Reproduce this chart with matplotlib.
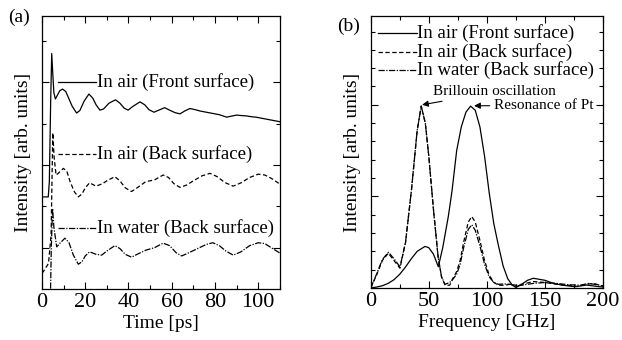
import matplotlib
matplotlib.use('Agg')
import matplotlib.pyplot as plt
from matplotlib.ticker import MultipleLocator, FixedLocator

plt.rcParams['font.family'] = ['Liberation Serif', 'DejaVu Serif']

# (a) time domain signals, offset for clarity
front_t = [0, 2.9, 3.4, 4.0, 4.5, 5.0, 5.5, 6.2, 7.0, 8.2, 9.5, 11, 12.5, 14, 16, 17.5, 19.5, 21.7,
           23.5, 25, 26.8, 28.5, 31, 34, 36, 38, 39.8, 42, 45.3, 47.5, 49.5, 51.8, 54, 56.7, 59,
           61.5, 63.8, 66, 68.4, 71, 73, 76, 79, 82, 85.4, 88, 90, 92, 94.6, 97, 99, 102, 104,
           107, 110]
front_v = [2.23, 2.23, 2.6, 4.5, 5.7, 5.2, 4.75, 4.6, 4.68, 4.8, 4.84, 4.78, 4.6, 4.42, 4.26, 4.32,
           4.55, 4.72, 4.62, 4.46, 4.33, 4.36, 4.5, 4.58, 4.5, 4.38, 4.33, 4.42, 4.53, 4.46, 4.34,
           4.28, 4.33, 4.39, 4.33, 4.27, 4.24, 4.31, 4.37, 4.34, 4.31, 4.28, 4.25, 4.22, 4.16, 4.19,
           4.21, 4.2, 4.19, 4.17, 4.16, 4.13, 4.11, 4.08, 4.05]

back_t = [0, 1, 3, 4.2, 5.0, 5.6, 6.5, 7.5, 9.9, 11.5, 13, 15, 16.8, 18.5, 20, 22, 25, 28, 30,
          33.7, 36, 38.5, 41.4, 44, 48, 52, 56, 58.5, 61, 63.8, 67, 70, 74, 77.7, 81, 84.5, 88.4,
          92, 96, 100, 103, 106, 110]
back_v = [0.38, 0.45, 0.62, 1.3, 3.78, 3.2, 2.76, 2.8, 2.92, 2.85, 2.6, 2.35, 2.23, 2.3, 2.45,
          2.57, 2.49, 2.55, 2.62, 2.72, 2.62, 2.45, 2.36, 2.45, 2.6, 2.64, 2.76, 2.7, 2.55, 2.46,
          2.52, 2.62, 2.74, 2.8, 2.72, 2.58, 2.49, 2.57, 2.7, 2.78, 2.76, 2.68, 2.54]

water_t = [3.8, 4.3, 4.9, 5.5, 6.8, 8.5, 10.6, 12.5, 14.5, 16.8, 18.5, 20, 22, 25, 27.6, 30, 33.7,
           36, 38.5, 41.4, 44, 48, 52, 56, 59, 62, 64.6, 68, 72, 76, 79, 82, 85, 88.4, 92, 96, 100,
           103, 106, 110]
water_v = [-0.5, 1.0, 1.95, 1.5, 1.02, 1.12, 1.23, 1.12, 0.82, 0.6, 0.66, 0.8, 0.9, 0.84, 0.82,
           0.92, 1.05, 0.98, 0.84, 0.77, 0.84, 0.94, 1.0, 1.11, 1.05, 0.88, 0.8, 0.88, 0.98, 1.08,
           1.12, 1.05, 0.92, 0.82, 0.9, 1.05, 1.12, 1.1, 1.0, 0.87]

# (b) spectra
front_f = [0, 5, 10, 15, 20, 25, 30, 35, 40, 46.7, 50, 54, 58.2, 62, 66.8, 70, 74, 78, 82, 86, 90,
           94, 98, 102, 106, 110, 114, 118, 122, 125, 130, 135, 140, 150, 157, 165, 176, 186, 193, 200]
front_s = [0, 0.05, 0.12, 0.25, 0.45, 0.75, 1.15, 1.6, 2.0, 2.27, 2.2, 1.85, 1.16, 2.2, 3.9, 5.3,
           7.5, 8.8, 9.6, 9.93, 9.7, 8.8, 7.2, 5.2, 3.5, 2.3, 1.2, 0.5, 0.15, 0.03, 0.2, 0.42, 0.53,
           0.42, 0.26, 0.15, 0.07, 0.16, 0.1, 0.05]

back_f = [0, 5, 10, 15.2, 20, 25.2, 30, 35, 40, 43.5, 47, 50, 54, 58, 61, 64, 68, 71, 74, 77, 80,
          84, 87, 90, 94, 98, 102, 106, 110, 115, 120, 125, 130, 140, 150, 160, 170, 178, 185,
          192, 200]
back_s = [0, 0.7, 1.5, 1.9, 1.5, 1.08, 2.5, 5.3, 8.6, 9.93, 9.0, 7.2, 4.3, 1.7, 0.6, 0.15, 0.15,
          0.55, 0.9, 1.5, 2.5, 3.6, 3.9, 3.6, 2.6, 1.5, 0.7, 0.3, 0.15, 0.15, 0.2, 0.15, 0.2, 0.35,
          0.3, 0.2, 0.15, 0.08, 0.2, 0.25, 0.1]

water_f = [0, 5, 10, 15.2, 20, 25.2, 30, 35, 40, 43.5, 47, 50, 54, 58, 61, 64, 68, 71, 74, 77, 80,
           84, 87, 90, 94, 98, 102, 106, 110, 115, 120, 125, 130, 140, 150, 160, 170, 180, 188, 200]
water_s = [0, 0.75, 1.55, 1.95, 1.6, 1.15, 2.5, 5.3, 8.6, 9.93, 9.0, 7.2, 4.3, 1.7, 0.6, 0.2, 0.3,
           0.5, 0.75, 1.3, 2.2, 3.2, 3.45, 3.15, 2.3, 1.3, 0.6, 0.3, 0.2, 0.22, 0.2, 0.1, 0.15, 0.25,
           0.3, 0.25, 0.18, 0.15, 0.25, 0.12]

labels = ['In air (Front surface)', 'In air (Back surface)', 'In water (Back surface)']
styles = ['-', (0, (3.5, 2)), (0, (5, 1.2, 1, 1.2))]

fig = plt.figure(figsize=(6.22, 3.40), dpi=100)
axa = fig.add_axes([0.0675, 0.150, 0.3825, 0.803])
axb = fig.add_axes([0.596, 0.153, 0.3735, 0.800])

lw = 0.9
for ax in (axa, axb):
    ax.tick_params(which='both', direction='in', top=True, right=True, labelsize=16, pad=3,
                   width=0.8)
    ax.tick_params(which='major', length=5)
    ax.tick_params(which='minor', length=3)
    ax.set_yticklabels([])
    for s in ax.spines.values():
        s.set_linewidth(0.9)

# panel (a)
axa.plot(front_t, front_v, color='black', lw=lw, linestyle=styles[0])
axa.plot(back_t, back_v, color='black', lw=lw, linestyle=styles[1])
axa.plot(water_t, water_v, color='black', lw=lw, linestyle=styles[2])
axa.set_xlim(0, 110)
axa.set_ylim(0, 6.61)
axa.xaxis.set_major_locator(MultipleLocator(20))
axa.xaxis.set_minor_locator(MultipleLocator(10))
axa.yaxis.set_major_locator(FixedLocator([1, 3, 5]))
axa.yaxis.set_minor_locator(FixedLocator([2, 4, 6]))
axa.set_yticklabels([])
axa.set_xlabel('Time [ps]', fontsize=14, labelpad=2)
axa.set_ylabel('Intensity [arb. units]', fontsize=14, labelpad=4)
for ypos, lab, ls in zip([5.0, 3.27, 1.48], labels, styles):
    axa.plot([7.4, 25.2], [ypos, ypos], color='black', lw=lw, linestyle=ls)
    axa.text(25.4, ypos, lab, fontsize=13.5, va='center', ha='left')
fig.text(0.013, 0.935, '(a)', fontsize=14)

# panel (b)
axb.plot(front_f, front_s, color='black', lw=lw, linestyle=styles[0])
axb.plot(back_f, back_s, color='black', lw=lw, linestyle=styles[1])
axb.plot(water_f, water_s, color='black', lw=lw, linestyle=styles[2])
axb.set_xlim(0, 200)
axb.set_ylim(0, 14.85)
axb.xaxis.set_major_locator(MultipleLocator(50))
axb.xaxis.set_minor_locator(MultipleLocator(25))
axb.yaxis.set_major_locator(MultipleLocator(5))
axb.yaxis.set_minor_locator(MultipleLocator(1))
axb.set_yticklabels([])
axb.set_xlabel('Frequency [GHz]', fontsize=14, labelpad=2)
axb.set_ylabel('Intensity [arb. units]', fontsize=14, labelpad=4)
for ypos, lab, ls in zip([13.9, 12.9, 11.9], labels, styles):
    axb.plot([6.6, 39.5], [ypos, ypos], color='black', lw=lw, linestyle=ls)
    axb.text(39.8, ypos, lab, fontsize=13.5, va='center', ha='left')
axb.annotate('Brillouin oscillation', xy=(44.2, 10.0), xytext=(53.5, 10.7), fontsize=11,
             va='center', ha='left',
             arrowprops=dict(arrowstyle='-|>', color='black', lw=0.8, mutation_scale=9,
                             shrinkA=0, shrinkB=0))
axb.annotate('Resonance of Pt', xy=(89, 9.95), xytext=(106, 9.95), fontsize=11,
             va='center', ha='left',
             arrowprops=dict(arrowstyle='-|>', color='black', lw=0.8, mutation_scale=9,
                             shrinkA=1, shrinkB=0))
fig.text(0.542, 0.91, '(b)', fontsize=14)

fig.savefig('out.png', dpi=100)
